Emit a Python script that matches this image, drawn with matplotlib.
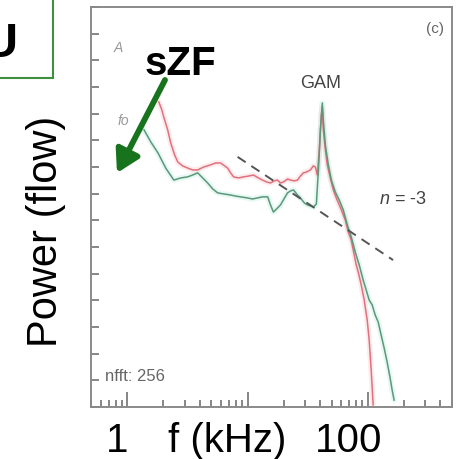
import matplotlib
matplotlib.use('Agg')
import matplotlib.pyplot as plt
from matplotlib.patches import Rectangle, FancyArrowPatch
from matplotlib.ticker import LogLocator, NullFormatter, MultipleLocator

plt.rcParams['font.family'] = ['Liberation Sans', 'DejaVu Sans']
plt.rcParams['mathtext.fontset'] = 'custom'
plt.rcParams['mathtext.it'] = 'Liberation Sans:italic'
plt.rcParams['mathtext.rm'] = 'Liberation Sans'

# spectra: frequency in kHz, power as log10
red_f = [1.83, 1.94, 2.01, 2.17, 2.30, 2.48, 2.63, 2.89, 3.18, 3.50,
         3.85, 4.32, 4.94, 5.43, 5.97, 6.45, 6.83, 7.23, 7.66, 8.42,
         9.27, 10.2, 11.2, 12.3, 13.3, 14.4, 15.5, 16.7, 17.7, 18.8,
         19.9, 21.5, 22.7, 24.5, 26.0, 27.5, 29.1, 30.8, 33.3, 35.2,
         36.6, 38.0, 39.5, 41.0, 41.8, 42.6, 44.3, 46.0, 48.7, 51.6,
         54.6, 57.8, 61.2, 64.9, 68.7, 72.7, 77.0, 80.0, 83.1, 88.0,
         93.2, 98.7, 102.5, 106.5, 110.6]
red_p = [-3.56, -3.86, -4.12, -4.61, -5.10, -5.55, -5.81, -5.96, -6.04, -6.11,
         -6.11, -6.00, -5.92, -5.85, -5.85, -5.96, -6.04, -6.22, -6.37, -6.41,
         -6.37, -6.34, -6.30, -6.41, -6.49, -6.56, -6.60, -6.52, -6.49, -6.60,
         -6.56, -6.45, -6.49, -6.52, -6.49, -6.34, -6.22, -6.19, -6.11, -5.96,
         -6.00, -6.30, -5.36, -4.05, -3.79, -4.61, -5.36, -5.92, -6.41, -6.86,
         -7.16, -7.42, -7.69, -7.99, -8.44, -8.74, -9.30, -9.67, -9.94, -10.42,
         -10.99, -11.74, -12.49, -13.61, -14.92]

green_f = [1.38, 1.57, 1.80, 2.09, 2.44, 2.79, 3.18, 3.50, 3.85, 4.24,
           4.66, 5.13, 5.64, 6.33, 7.23, 7.95, 8.75, 10.0, 11.0, 12.1,
           13.3, 14.7, 15.5, 16.4, 17.7, 18.8, 20.3, 21.5, 22.7, 24.1,
           26.0, 27.5, 29.7, 31.4, 33.3, 35.2, 37.3, 38.8, 40.3, 41.8,
           42.6, 44.3, 46.9, 49.7, 53.6, 57.8, 62.4, 67.4, 72.7, 78.5,
           84.7, 91.4, 96.8, 102.5, 108.5, 115.0, 121.7, 128.9, 136.5, 144.5,
           153.0, 159.0, 165.1]
green_p = [-4.61, -5.06, -5.47, -6.04, -6.49, -6.41, -6.37, -6.30, -6.22, -6.41,
           -6.60, -6.82, -6.97, -7.01, -7.05, -7.09, -7.12, -7.16, -7.20, -7.16,
           -7.12, -7.12, -7.42, -7.69, -7.54, -7.42, -7.16, -6.97, -6.90, -6.86,
           -7.05, -7.16, -7.35, -7.42, -7.46, -7.50, -7.39, -6.11, -4.61, -3.60,
           -4.24, -5.17, -5.92, -6.49, -6.94, -7.24, -7.61, -8.17, -8.62, -9.19,
           -9.67, -10.24, -10.61, -10.99, -11.17, -11.55, -11.81, -12.30, -12.79, -13.31,
           -13.91, -14.36, -14.74]

# n = -3 power law guide
fit_f = [8.26, 162.0]
fit_p = [-5.62, -9.49]

W, H = 457, 459


def px(x, y):
    return x / W, 1 - y / H


fig = plt.figure(figsize=(W / 100, H / 100), dpi=100)
ax = fig.add_axes([91 / W, 1 - 407 / H, 361 / W, 400 / H])

# soft halo under each trace
ax.plot(red_f, red_p, color='#f4a0a8', lw=4, alpha=0.2, solid_capstyle='round')
ax.plot(green_f, green_p, color='#80e0c8', lw=4, alpha=0.2, solid_capstyle='round')
ax.plot(red_f, red_p, color='#e2707c', lw=1.1)
ax.plot(green_f, green_p, color='#5e9678', lw=1.1)
ax.plot(fit_f, fit_p, color='#555555', lw=1.4, dashes=(5, 3.5))

ax.set_xscale('log')
ax.set_xlim(0.5, 500)
ax.set_ylim(-15, 0)
ax.xaxis.set_major_locator(LogLocator(base=10))
ax.xaxis.set_minor_locator(LogLocator(base=10, subs=range(2, 10)))
ax.xaxis.set_major_formatter(NullFormatter())
ax.xaxis.set_minor_formatter(NullFormatter())
ax.yaxis.set_major_locator(MultipleLocator(1))
ax.set_yticklabels([])
ax.tick_params(axis='x', which='major', direction='in', length=11, width=1.1, color='#666666')
ax.tick_params(axis='x', which='minor', direction='in', length=5, width=1.1, color='#666666')
ax.tick_params(axis='y', which='major', direction='in', length=6, width=1.1, color='#666666')
for s in ax.spines.values():
    s.set_color('#8a8a8a')
    s.set_linewidth(1.4)

# small labels inside the panel
gray = '#666666'
fig.text(*px(435, 29), '(c)', fontsize=11, color=gray, ha='center', va='center')
fig.text(*px(321, 83), 'GAM', fontsize=13, color='#444444', ha='center', va='center')
fig.text(*px(403, 199), '$n$ = -3', fontsize=13, color='#444444', ha='center', va='center')
fig.text(*px(118, 48), 'A', fontsize=10, color='#999999', style='italic', ha='center', va='center')
fig.text(*px(123, 121), 'fo', fontsize=10, color='#999999', style='italic', ha='center', va='center')
fig.text(*px(105, 381), 'nfft: 256', fontsize=12, color=gray, ha='left', va='baseline')

# outer labels
fig.text(*px(46, 231), 'Power (flow)', fontsize=30, rotation=90, ha='center', va='center')
fig.text(*px(117, 452), '1', fontsize=29, ha='center', va='baseline')
fig.text(*px(168, 452), 'f (kHz)', fontsize=29, ha='left', va='baseline')
fig.text(*px(349, 452), '100', fontsize=29, ha='center', va='baseline')
fig.text(*px(145, 75), 'sZF', fontsize=29, fontweight='bold', ha='left', va='baseline')

# panel tag box
fig.add_artist(Rectangle(px(-10, 78), 63 / W, 100 / H, transform=fig.transFigure,
                         facecolor='white', edgecolor='#3f8f3f', lw=1.5))
fig.text(*px(17, 57), 'U', fontsize=35, fontweight='bold', ha='right', va='baseline')

arrow = FancyArrowPatch(px(165, 80), px(117, 173), transform=fig.transFigure,
                        arrowstyle='-|>,head_width=0.32,head_length=0.55',
                        mutation_scale=24, lw=4.2, color='#17741c', shrinkA=0, shrinkB=0)
fig.add_artist(arrow)

fig.savefig('out.png', dpi=100, facecolor='white')
